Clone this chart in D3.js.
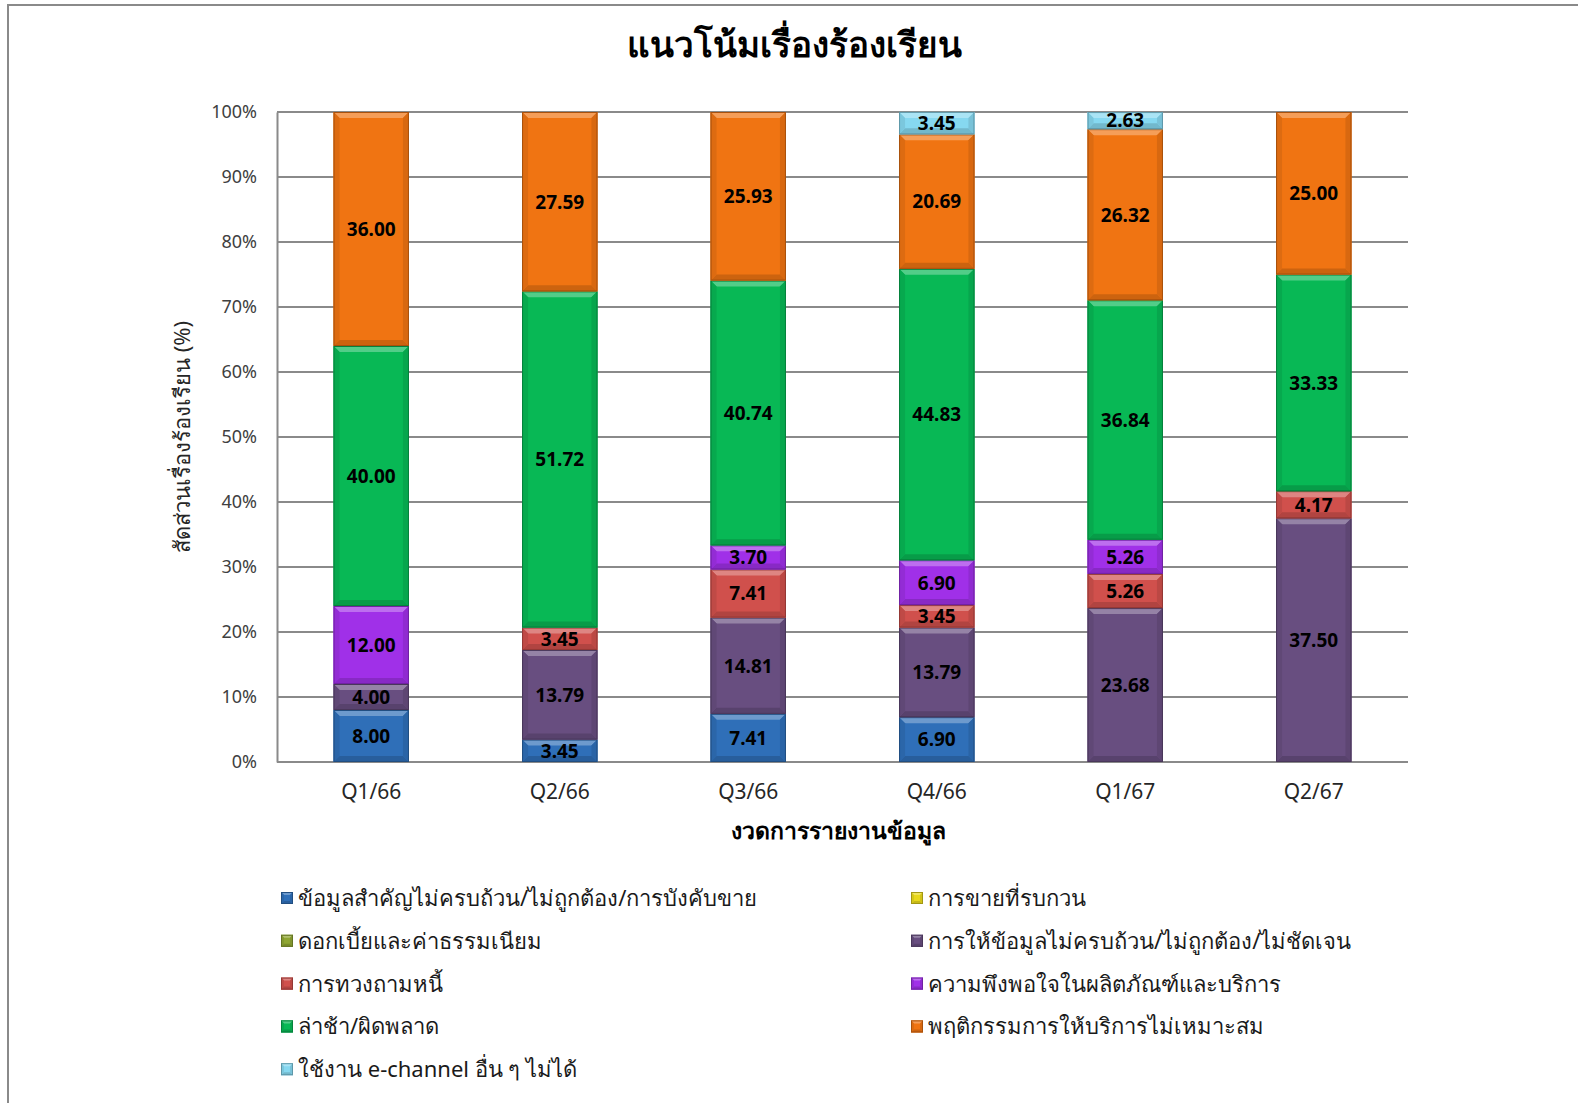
<!DOCTYPE html>
<html>
<head>
<meta charset="utf-8">
<script src="https://cdn.jsdelivr.net/npm/d3@7"></script>
<style>
  body { margin: 0; background: #fff; }
  svg { display: block; font-family: Tahoma, "Noto Sans", "DejaVu Sans", sans-serif; }
</style>
</head>
<body>
<svg id="chart" width="1578" height="1103"></svg>
<script>
// Data
const quarters = ['Q1/66', 'Q2/66', 'Q3/66', 'Q4/66', 'Q1/67', 'Q2/67'];

const seriesNames = [
  'ข้อมูลสำคัญไม่ครบถ้วน/ไม่ถูกต้อง/การบังคับขาย',
  'การขายที่รบกวน',
  'ดอกเบี้ยและค่าธรรมเนียม',
  'การให้ข้อมูลไม่ครบถ้วน/ไม่ถูกต้อง/ไม่ชัดเจน',
  'การทวงถามหนี้',
  'ความพึงพอใจในผลิตภัณฑ์และบริการ',
  'ล่าช้า/ผิดพลาด',
  'พฤติกรรมการให้บริการไม่เหมาะสม',
  'ใช้งาน e-channel อื่น ๆ ไม่ได้'
];

const seriesColors = ['#2f6fb8', '#e8d81c', '#8fa633', '#684e80', '#d0504c', '#a030e8', '#08b855', '#f07412', '#86d8f0'];

// values per series, one per quarter
const infoSale     = [8.00, 3.45, 7.41, 6.90, 0, 0];
const annoyingSale = [0, 0, 0, 0, 0, 0];
const interestFee  = [0, 0, 0, 0, 0, 0];
const infoUnclear  = [4.00, 13.79, 14.81, 13.79, 23.68, 37.50];
const debtCollect  = [0, 3.45, 7.41, 3.45, 5.26, 4.17];
const satisfaction = [12.00, 0, 3.70, 6.90, 5.26, 0];
const delayError   = [40.00, 51.72, 40.74, 44.83, 36.84, 33.33];
const behaviour    = [36.00, 27.59, 25.93, 20.69, 26.32, 25.00];
const eChannel     = [0, 0, 0, 3.45, 2.63, 0];

const seriesValues = [infoSale, annoyingSale, interestFee, infoUnclear, debtCollect, satisfaction, delayError, behaviour, eChannel];

const yTicks = [0, 10, 20, 30, 40, 50, 60, 70, 80, 90, 100];

const titleText = 'แนวโน้มเรื่องร้องเรียน';
const yTitle = 'สัดส่วนเรื่องร้องเรียน (%)';
const xTitle = 'งวดการรายงานข้อมูล';

// Layout
const svg = d3.select('#chart');
const plot = { left: 277, right: 1408, top: 112, bottom: 762 };
const gridColor = '#8a8a8a';

// frame
svg.append('line').attr('x1', 7).attr('x2', 1578).attr('y1', 5).attr('y2', 5)
  .attr('stroke', gridColor).attr('stroke-width', 2);
svg.append('line').attr('x1', 8).attr('x2', 8).attr('y1', 4).attr('y2', 1103)
  .attr('stroke', gridColor).attr('stroke-width', 2);

const x = d3.scaleBand()
  .domain(quarters)
  .range([plot.left, plot.right])
  .paddingInner(0.6)
  .paddingOuter(0.3);

const y = d3.scaleLinear()
  .domain([0, 100])
  .range([plot.bottom, plot.top]);

// gridlines
svg.append('g')
  .selectAll('line')
  .data(yTicks)
  .join('line')
  .attr('x1', plot.left).attr('x2', plot.right)
  .attr('y1', d => y(d)).attr('y2', d => y(d))
  .attr('stroke', gridColor).attr('stroke-width', 2);

// y axis
const yAxis = svg.append('g')
  .attr('transform', `translate(${plot.left},0)`)
  .call(d3.axisLeft(y).tickValues(yTicks).tickFormat(d => d + '%').tickSize(0).tickPadding(20));
yAxis.select('.domain').attr('stroke', gridColor).attr('stroke-width', 2);
yAxis.selectAll('text').attr('font-size', 18).attr('fill', '#404040')
  .attr('font-family', 'Tahoma, "Noto Sans", "DejaVu Sans", sans-serif');

// x axis
const xAxis = svg.append('g')
  .attr('transform', `translate(0,${plot.bottom})`)
  .call(d3.axisBottom(x).tickSize(0).tickPadding(22));
xAxis.select('.domain').remove();
xAxis.selectAll('text').attr('font-size', 21).attr('fill', '#262626')
  .attr('font-family', 'Tahoma, "Noto Sans", "DejaVu Sans", sans-serif');

// stacked data
const rows = quarters.map((q, i) => {
  const r = { quarter: q };
  seriesNames.forEach((s, j) => { r[s] = seriesValues[j][i]; });
  return r;
});
const stacked = d3.stack().keys(seriesNames)(rows);

// colour helpers for the bevel look
function lighter(c, k) { return d3.interpolateRgb(c, '#ffffff')(k); }
function darker(c, k) { return d3.interpolateRgb(c, '#000000')(k); }

function bevelBox(g, bx, by, w, h, color, b) {
  b = Math.min(b, h / 2, w / 2);
  g.append('rect').attr('x', bx).attr('y', by).attr('width', w).attr('height', h).attr('fill', color);
  const poly = (pts, fill) => g.append('polygon')
    .attr('points', pts.map(p => p.join(',')).join(' '))
    .attr('fill', fill);
  poly([[bx, by], [bx + w, by], [bx + w - b, by + b], [bx + b, by + b]], lighter(color, 0.3));
  poly([[bx, by + h], [bx + w, by + h], [bx + w - b, by + h - b], [bx + b, by + h - b]], darker(color, 0.15));
  poly([[bx, by], [bx + b, by + b], [bx + b, by + h - b], [bx, by + h]], darker(color, 0.08));
  poly([[bx + w, by], [bx + w - b, by + b], [bx + w - b, by + h - b], [bx + w, by + h]], darker(color, 0.1));
  g.append('rect').attr('x', bx + 0.5).attr('y', by + 0.5).attr('width', w - 1).attr('height', h - 1)
    .attr('fill', 'none').attr('stroke', darker(color, 0.3)).attr('stroke-width', 1);
}

const barsG = svg.append('g');
stacked.forEach((layer, j) => {
  layer.forEach((d, i) => {
    const v = d[1] - d[0];
    if (v <= 0) return;
    const top = y(d[1]);
    const h = y(d[0]) - top;
    const g = barsG.append('g');
    bevelBox(g, x(quarters[i]), top, x.bandwidth(), h, seriesColors[j], 6);
  });
});

// data labels
const labelsG = svg.append('g');
stacked.forEach((layer, j) => {
  layer.forEach((d, i) => {
    const v = d[1] - d[0];
    if (v <= 0) return;
    labelsG.append('text')
      .attr('x', x(quarters[i]) + x.bandwidth() / 2)
      .attr('y', y((d[0] + d[1]) / 2))
      .attr('dy', '0.36em')
      .attr('text-anchor', 'middle')
      .attr('font-size', 19)
      .attr('font-weight', 'bold')
      .attr('fill', '#000')
      .text(v.toFixed(2));
  });
});

// titles
svg.append('text')
  .attr('x', 794).attr('y', 57)
  .attr('text-anchor', 'middle')
  .attr('font-size', 35).attr('font-weight', 'bold').attr('fill', '#000')
  .text(titleText);

svg.append('text')
  .attr('transform', `translate(190,437) rotate(-90)`)
  .attr('text-anchor', 'middle')
  .attr('font-size', 22).attr('fill', '#262626')
  .text(yTitle);

svg.append('text')
  .attr('x', 838).attr('y', 839)
  .attr('text-anchor', 'middle')
  .attr('font-size', 23).attr('font-weight', 'bold').attr('fill', '#000')
  .text(xTitle);

// legend: two columns, row-major
const legendG = svg.append('g');
const legendCols = [281, 911];
const legendRow0 = 898, legendStep = 42.8;
seriesNames.forEach((s, j) => {
  const col = j % 2, row = Math.floor(j / 2);
  const lx = legendCols[col], ly = legendRow0 + row * legendStep;
  const g = legendG.append('g');
  bevelBox(g, lx, ly - 6, 12, 12, seriesColors[j], 3);
  g.append('text')
    .attr('x', lx + 17).attr('y', ly)
    .attr('dy', '0.36em')
    .attr('font-size', 22).attr('fill', '#1a1a1a')
    .text(s);
});
</script>
</body>
</html>
